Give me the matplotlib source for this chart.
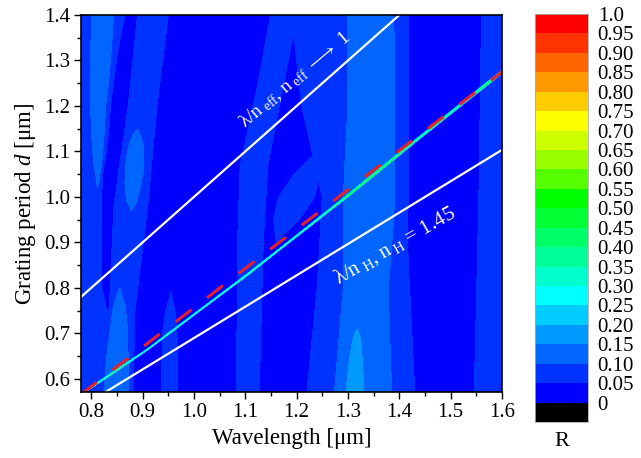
import matplotlib.pyplot as plt
import numpy as np
from matplotlib.colors import ListedColormap
from matplotlib.ticker import MultipleLocator

plt.rcParams["font.family"] = ["Liberation Serif", "DejaVu Sans"]
plt.rcParams["mathtext.fontset"] = "custom"
plt.rcParams["mathtext.rm"] = "Liberation Serif"
plt.rcParams["mathtext.it"] = "Liberation Serif:italic"

# axis ranges [um]
wl_lim = (0.78, 1.6)
d_lim = (0.571, 1.4)
x_ticks = [0.8, 0.9, 1.0, 1.1, 1.2, 1.3, 1.4, 1.5, 1.6]
y_ticks = [0.6, 0.7, 0.8, 0.9, 1.0, 1.1, 1.2, 1.3, 1.4]

# contour levels of R and their colours (bottom -> top), black below 0
levels = [0, 0.05, 0.10, 0.15, 0.20, 0.25, 0.30, 0.35, 0.40, 0.45, 0.50,
          0.55, 0.60, 0.65, 0.70, 0.75, 0.80, 0.85, 0.90, 0.95, 1.0]
level_labels = ["0", "0.05", "0.10", "0.15", "0.20", "0.25", "0.30", "0.35", "0.40", "0.45", "0.50",
                "0.55", "0.60", "0.65", "0.70", "0.75", "0.80", "0.85", "0.90", "0.95", "1.0"]
level_colors = ["#0000ff", "#0033ff", "#0066ff", "#0099ff", "#00ccff", "#00ffff", "#00ffcc",
                "#00ff99", "#00ff66", "#00ff33", "#00ff00", "#55ff00", "#99ff00", "#ccff00",
                "#ffff00", "#ffcc00", "#ff9900", "#ff6600", "#ff3300", "#ff0000"]
under_color = "#000000"

# background reflectance and the raised bands
# each band: period samples, centre wavelength, half width, tier (1 = +0.05, 2 = +0.10 ...)
base_R = 0.025
band_left = ([0.57, 0.80, 1.00, 1.20, 1.40], [0.81, 0.79, 0.79, 0.80, 0.82], [0.06, 0.03, 0.03, 0.03, 0.045], 1)
band_left_top = ([1.02, 1.08, 1.15, 1.25, 1.40], [0.812, 0.814, 0.816, 0.818, 0.822],
                 [0.0, 0.01, 0.016, 0.02, 0.022], 2)
band_left_bot = ([0.57, 0.70, 0.76, 0.80], [0.85, 0.852, 0.854, 0.855], [0.025, 0.02, 0.012, 0.0], 2)
band_tilt = ([0.57, 0.75, 0.98, 1.20, 1.40], [0.85, 0.86, 0.877, 0.90, 0.92], [0.03, 0.025, 0.033, 0.028, 0.03], 1)
band_tilt_core = ([0.97, 0.99, 1.03, 1.06, 1.10, 1.13, 1.15], [0.878, 0.879, 0.881, 0.884, 0.886, 0.888, 0.89],
                  [0.0, 0.01, 0.016, 0.019, 0.017, 0.01, 0.0], 2)
band_095 = ([0.57, 0.70, 0.75, 0.79], [0.952, 0.953, 0.954, 0.955], [0.016, 0.014, 0.009, 0.0], 1)
band_110 = ([0.57, 0.90, 1.07, 1.25, 1.40], [1.105, 1.11, 1.117, 1.15, 1.175], [0.022, 0.025, 0.027, 0.025, 0.026], 1)
band_branch = ([0.90, 0.95, 1.00, 1.05, 1.10], [1.16, 1.18, 1.20, 1.22, 1.24], [0.0, 0.025, 0.035, 0.025, 0.0], 1)
band_130 = ([0.57, 0.80, 1.00, 1.20, 1.40], [1.325, 1.33, 1.33, 1.31, 1.30], [0.105, 0.09, 0.08, 0.10, 0.11], 1)
band_130_core = ([0.57, 0.80, 1.00, 1.20, 1.40], [1.33, 1.335, 1.345, 1.35, 1.35], [0.058, 0.045, 0.055, 0.05, 0.05], 2)
band_130_patch = ([0.57, 0.64, 0.69, 0.71], [1.313, 1.315, 1.317, 1.318], [0.018, 0.013, 0.007, 0.0], 3)
band_right = ([0.57, 1.00, 1.40], [1.60, 1.60, 1.60], [0.054, 0.045, 0.04], 1)
bands = [band_left, band_left_top, band_left_bot, band_tilt, band_tilt_core, band_095, band_110,
         band_branch, band_130, band_130_core, band_130_patch, band_right]

# narrow guided-mode resonance
res_wl = [0.78, 0.91, 1.105, 1.30, 1.43, 1.60]
res_d = [0.566, 0.665, 0.830, 1.003, 1.122, 1.275]
res_peak = [0.24, 0.26, 0.28, 0.31, 0.33, 0.36]
res_width = [0.0011, 0.0012, 0.0014, 0.0018, 0.0022, 0.0026]

# guide lines
line_wl = [0.78, 1.6]
n_eff = 1.0
n_H = 1.45
red_wl = [0.78, 1.6]
red_d = [0.566, 1.275]

wl = np.linspace(wl_lim[0], wl_lim[1], 900)
dd = np.linspace(d_lim[0], d_lim[1], 1600)
WL, DD = np.meshgrid(wl, dd)

tiers = {}
for d_s, wl_s, hw_s, tier in bands:
    c = np.interp(dd, d_s, wl_s)[:, None]
    hw = np.maximum(np.interp(dd, d_s, hw_s, left=0, right=0), 1e-6)[:, None]
    prof = np.exp(-np.log(2) * ((WL - c) / hw) ** 4)
    tiers[tier] = np.maximum(tiers.get(tier, 0), prof)
R = base_R + 0.05 * sum(tiers.values())

dc = np.interp(WL, res_wl, res_d)
w = np.interp(WL, res_wl, res_width)
R = R + np.interp(WL, res_wl, res_peak) * np.exp(-((DD - dc) / w) ** 2)

fig = plt.figure(figsize=(6.41, 4.58), dpi=100)
ax = fig.add_axes([81 / 641, 66 / 458, 421 / 641, 377 / 458])
cax = fig.add_axes([535 / 641, 36 / 458, 53 / 641, 408 / 458])

ax.contourf(WL, DD, R, levels=levels, colors=level_colors)

lw = np.array(line_wl)
ax.plot(lw, lw / n_eff, color="white", lw=1.6)
ax.plot(lw, lw / n_H, color="white", lw=1.6)
ax.plot(red_wl, red_d, color="#e8202a", lw=2.2, dashes=(6.5, 6.5))

ax.text(1.196, 1.258, "λ/n$_{\\ \\mathrm{eff}}$, n$_{\\ \\mathrm{eff}}$ $\\longrightarrow$ 1", color="white",
        fontsize=14, rotation=40, ha="center", va="center", rotation_mode="anchor")
ax.text(1.391, 0.893, "λ/n$_{\\ \\mathrm{H}}$, n$_{\\ \\mathrm{H}}$ = 1.45", color="white",
        fontsize=15, rotation=30, ha="center", va="center", rotation_mode="anchor")

ax.set_xlim(wl_lim)
ax.set_ylim(d_lim)
ax.set_xticks(x_ticks, [f"{v:.1f}" for v in x_ticks])
ax.set_yticks(y_ticks, [f"{v:.1f}" for v in y_ticks])
ax.xaxis.set_minor_locator(MultipleLocator(0.05))
ax.yaxis.set_minor_locator(MultipleLocator(0.05))
ax.tick_params(which="both", direction="out", top=False, right=False, width=1, labelsize=15, pad=3)
ax.tick_params(which="major", length=5)
ax.tick_params(which="minor", length=3)
ax.set_xlabel("Wavelength [μm]", fontsize=16.5, labelpad=4)
ax.set_ylabel("Grating period $d$ [μm]", fontsize=16.5, labelpad=4)
for s in ax.spines.values():
    s.set_linewidth(1.2)

# colour bar: black band below 0, then one band per level step
bar_colors = [under_color] + level_colors
cax.pcolormesh([0, 1], np.arange(len(bar_colors) + 1), np.arange(len(bar_colors)).reshape(-1, 1),
               cmap=ListedColormap(bar_colors), vmin=-0.5, vmax=len(bar_colors) - 0.5)
cax.set_xlim(0, 1)
cax.set_ylim(0, len(bar_colors))
cax.set_xticks([])
cax.yaxis.tick_right()
cax.set_yticks(np.arange(1, len(bar_colors) + 1), level_labels)
cax.tick_params(axis="y", length=0, pad=7, labelsize=15)
for s in cax.spines.values():
    s.set_color("#aaaaaa")
    s.set_linewidth(0.6)
fig.text(562 / 641, 1 - 442 / 458, "R", fontsize=16, ha="center", va="center")

fig.savefig("out.png", dpi=100)
